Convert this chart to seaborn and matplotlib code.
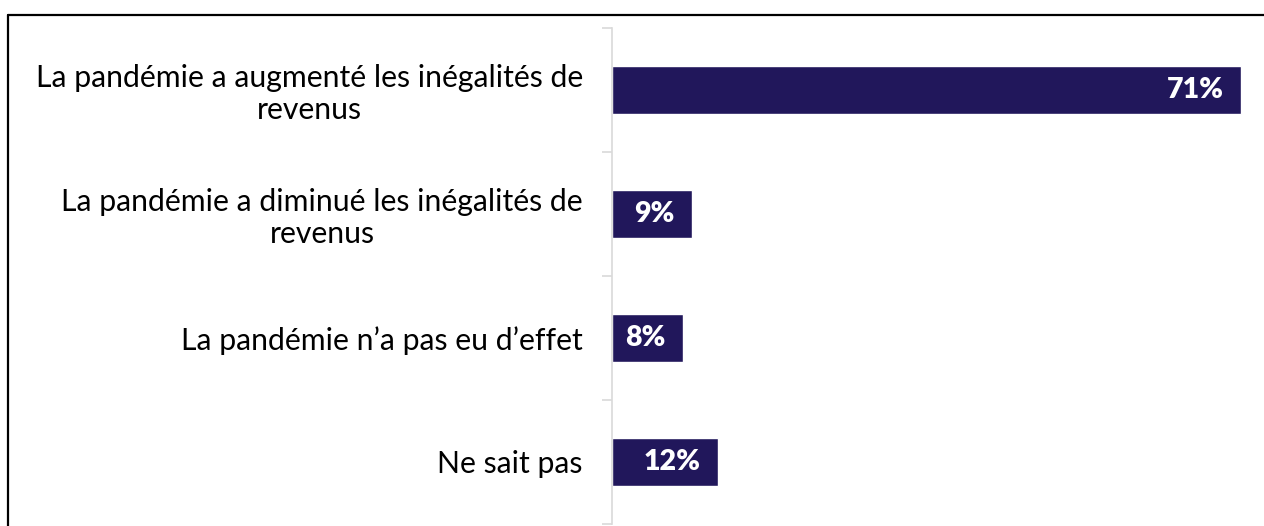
import matplotlib
matplotlib.use("Agg")
import matplotlib.pyplot as plt
import seaborn as sns
import pandas as pd
from matplotlib.lines import Line2D

categories = [
    "La pandémie a augmenté les inégalités de\nrevenus",
    "La pandémie a diminué les inégalités de\nrevenus",
    "La pandémie n\u2019a pas eu d\u2019effet",
    "Ne sait pas",
]
values = [71, 9, 8, 12]
value_labels = ["71%", "9%", "8%", "12%"]

sns.set_theme(style="white")
plt.rcParams['font.family'] = ['Lato', 'DejaVu Sans']

W, H = 1264, 526
fig = plt.figure(figsize=(W / 100, H / 100), dpi=100)
ax = fig.add_axes([612 / W, 2 / H, 1 - 612 / W, (524 - 28) / H])

df = pd.DataFrame({"cat": categories, "val": values})
sns.barplot(data=df, y="cat", x="val", orient="h", color="#21175B",
            saturation=1, width=0.395, ax=ax)

ax.set_xlim(0, (W - 612) / 8.86)
ax.set_ylim(3.5, -0.5)
ax.set_xlabel("")
ax.set_ylabel("")
ax.set_xticks([])
for s in ["top", "right", "bottom"]:
    ax.spines[s].set_visible(False)
ax.spines["left"].set_color("#d9d9d9")
ax.spines["left"].set_linewidth(1.2)

ax.set_yticks([-0.5, 0.5, 1.5, 2.5, 3.5], minor=True)
ax.tick_params(axis="y", which="minor", length=7, color="#d9d9d9", width=1.2, left=True)
ax.tick_params(axis="y", which="major", length=0, pad=21, labelsize=21.7, labelcolor="black")
for t in ax.get_yticklabels():
    t.set_multialignment("center")
    t.set_linespacing(1.15)

for i, (v, lab) in enumerate(zip(values, value_labels)):
    ax.annotate(lab, xy=(v, i), xytext=(-12.5, 0), textcoords="offset points",
                ha="right", va="center", color="white", fontsize=20.5, fontweight="heavy")

# frame lines of surrounding box
fig.add_artist(Line2D([8 / W, 8 / W], [0, 1 - 15 / H], color="black", lw=1.6,
                      transform=fig.transFigure))
fig.add_artist(Line2D([8 / W, 1], [1 - 15 / H, 1 - 15 / H], color="black", lw=1.6,
                      transform=fig.transFigure))

fig.savefig("out.png", dpi=100)
